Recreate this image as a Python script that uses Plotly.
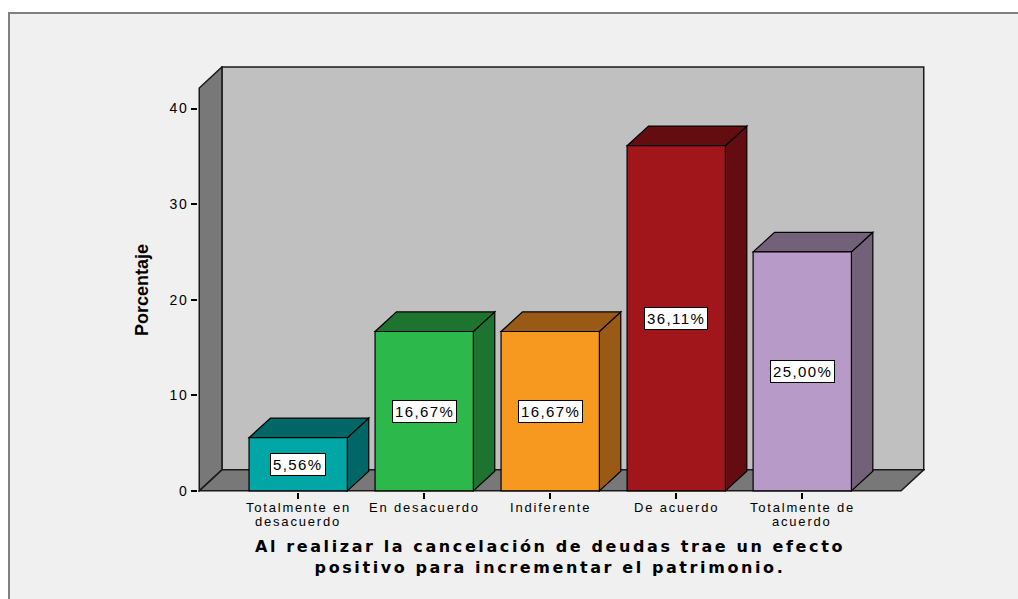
import plotly.graph_objects as go

# ---------------- data ----------------
categories = ["Totalmente en<br>desacuerdo", "En desacuerdo", "Indiferente",
              "De acuerdo", "Totalmente de<br>acuerdo"]
values = [5.56, 16.67, 16.67, 36.11, 25.00]
value_labels = ["5,56%", "16,67%", "16,67%", "36,11%", "25,00%"]
front_colors = ["#00a6a6", "#2db84b", "#f7991e", "#a0161b", "#b89ac9"]
dark_colors = ["#006666", "#1e732f", "#985a14", "#640d10", "#736079"]
y_ticks = [0, 10, 20, 30, 40]
y_title = "Porcentaje"
x_title_lines = ["Al realizar la cancelación de deudas trae un efecto",
                 "positivo para incrementar el patrimonio."]

# ---------------- geometry (style) ----------------
X_LEFT = -0.785          # front-left edge of the floor / left wall
X_RIGHT = 4.784          # front-right edge of the floor
WALL_DX, WALL_DY = 0.18, 2.2
Y_TOP = 44.35            # top of back wall
BAR_HALF = 0.39
BAR_DX, BAR_DY = 0.17, 2.05

FONT = "Liberation Sans, Arial, sans-serif"
TITLE_FONT = "DejaVu Sans"


def spaced(txt, px):
    return "<br>".join(f'<span style="letter-spacing:{px}px">{t}</span>' for t in txt.split("<br>"))


x_idx = list(range(len(categories)))

fig = go.Figure()
fig.add_trace(go.Bar(
    x=x_idx, y=values, width=2 * BAR_HALF,
    marker=dict(color=front_colors, line=dict(color="black", width=1.2)),
    hoverinfo="skip", showlegend=False,
))

shapes = []
# outer frame
shapes.append(dict(type="rect", xref="paper", yref="paper",
                   x0=(9 - 198) / 727, x1=(1040 - 198) / 727,
                   y0=(492 - 620) / 426, y1=(492 - 13) / 426,
                   fillcolor="#f0f0f0", line=dict(color="#808080", width=2), layer="below"))
# back wall
shapes.append(dict(type="rect", xref="x", yref="y",
                   x0=X_LEFT + WALL_DX, x1=X_RIGHT + WALL_DX, y0=WALL_DY, y1=Y_TOP,
                   fillcolor="#c0c0c0", line=dict(color="#1a1a1a", width=1.5), layer="below"))
# left wall
shapes.append(dict(type="path", xref="x", yref="y",
                   path=(f"M {X_LEFT},0 L {X_LEFT},{Y_TOP - WALL_DY} "
                         f"L {X_LEFT + WALL_DX},{Y_TOP} L {X_LEFT + WALL_DX},{WALL_DY} Z"),
                   fillcolor="#787878", line=dict(color="#1a1a1a", width=1.5), layer="below"))
# floor
shapes.append(dict(type="path", xref="x", yref="y",
                   path=(f"M {X_LEFT},0 L {X_RIGHT},0 L {X_RIGHT + WALL_DX},{WALL_DY} "
                         f"L {X_LEFT + WALL_DX},{WALL_DY} Z"),
                   fillcolor="#787878", line=dict(color="#1a1a1a", width=1.5), layer="below"))

# bar side and top faces
for i, v in enumerate(values):
    xl, xr = i - BAR_HALF, i + BAR_HALF
    side = (f"M {xr},0 L {xr},{v} L {xr + BAR_DX},{v + BAR_DY} "
            f"L {xr + BAR_DX},{BAR_DY} Z")
    top = (f"M {xl},{v} L {xr},{v} L {xr + BAR_DX},{v + BAR_DY} "
           f"L {xl + BAR_DX},{v + BAR_DY} Z")
    for p in (side, top):
        shapes.append(dict(type="path", xref="x", yref="y", path=p,
                           fillcolor=dark_colors[i],
                           line=dict(color="black", width=1.2), layer="below"))

annotations = []
# value labels in white boxes
for i, v in enumerate(values):
    annotations.append(dict(x=i, y=v / 2, xref="x", yref="y",
                            text=spaced(value_labels[i], 1.4), showarrow=False,
                            font=dict(family=FONT, size=15, color="black"),
                            bgcolor="white", bordercolor="black", borderwidth=1, borderpad=2))

# category labels (tight line spacing)
for i, c in enumerate(categories):
    for k, line in enumerate(c.split("<br>")):
        annotations.append(dict(x=i, y=0, xref="x", yref="y",
                                text=spaced(line, 1.8), showarrow=False,
                                xanchor="center", yanchor="middle",
                                yshift=-(16.5 + 14 * k),
                                font=dict(family=FONT, size=13, color="black")))

annotations.append(dict(x=(142 - 198) / 727, y=(492 - 290) / 426, xref="paper", yref="paper",
                        text=y_title, textangle=-90, showarrow=False,
                        xanchor="center", yanchor="middle",
                        font=dict(family=FONT, size=18, color="black", weight="bold")))

annotations.append(dict(x=2, y=(492 - 557) / 426, xref="x", yref="paper",
                        text="<br>".join(spaced(t, 2.6) for t in x_title_lines),
                        showarrow=False, xanchor="center", yanchor="middle",
                        font=dict(family=TITLE_FONT, size=16, color="black", weight="bold")))

fig.update_layout(
    width=1018, height=599,
    margin=dict(l=198, r=93, t=66, b=107),
    paper_bgcolor="white", plot_bgcolor="#f0f0f0",
    shapes=shapes, annotations=annotations,
    showlegend=False, hovermode=False,
    xaxis=dict(range=[X_LEFT - 0.01, X_RIGHT + WALL_DX + 0.01],
               tickvals=x_idx, showticklabels=False,
               ticks="outside", ticklen=6, tickwidth=1.5, tickcolor="black",
               showgrid=False, zeroline=False, showline=False),
    yaxis=dict(range=[-0.12, Y_TOP + 0.1],
               tickvals=y_ticks, ticktext=[spaced(str(t), 1.5) for t in y_ticks],
               ticks="outside", ticklen=6, tickwidth=1.5, tickcolor="black",
               showgrid=False, zeroline=False, showline=False,
               tickfont=dict(family=FONT, size=14, color="black")),
)

fig.write_html("out.html", config={"displayModeBar": False},
               post_script="document.body.style.margin='0';document.body.style.overflow='hidden';")
